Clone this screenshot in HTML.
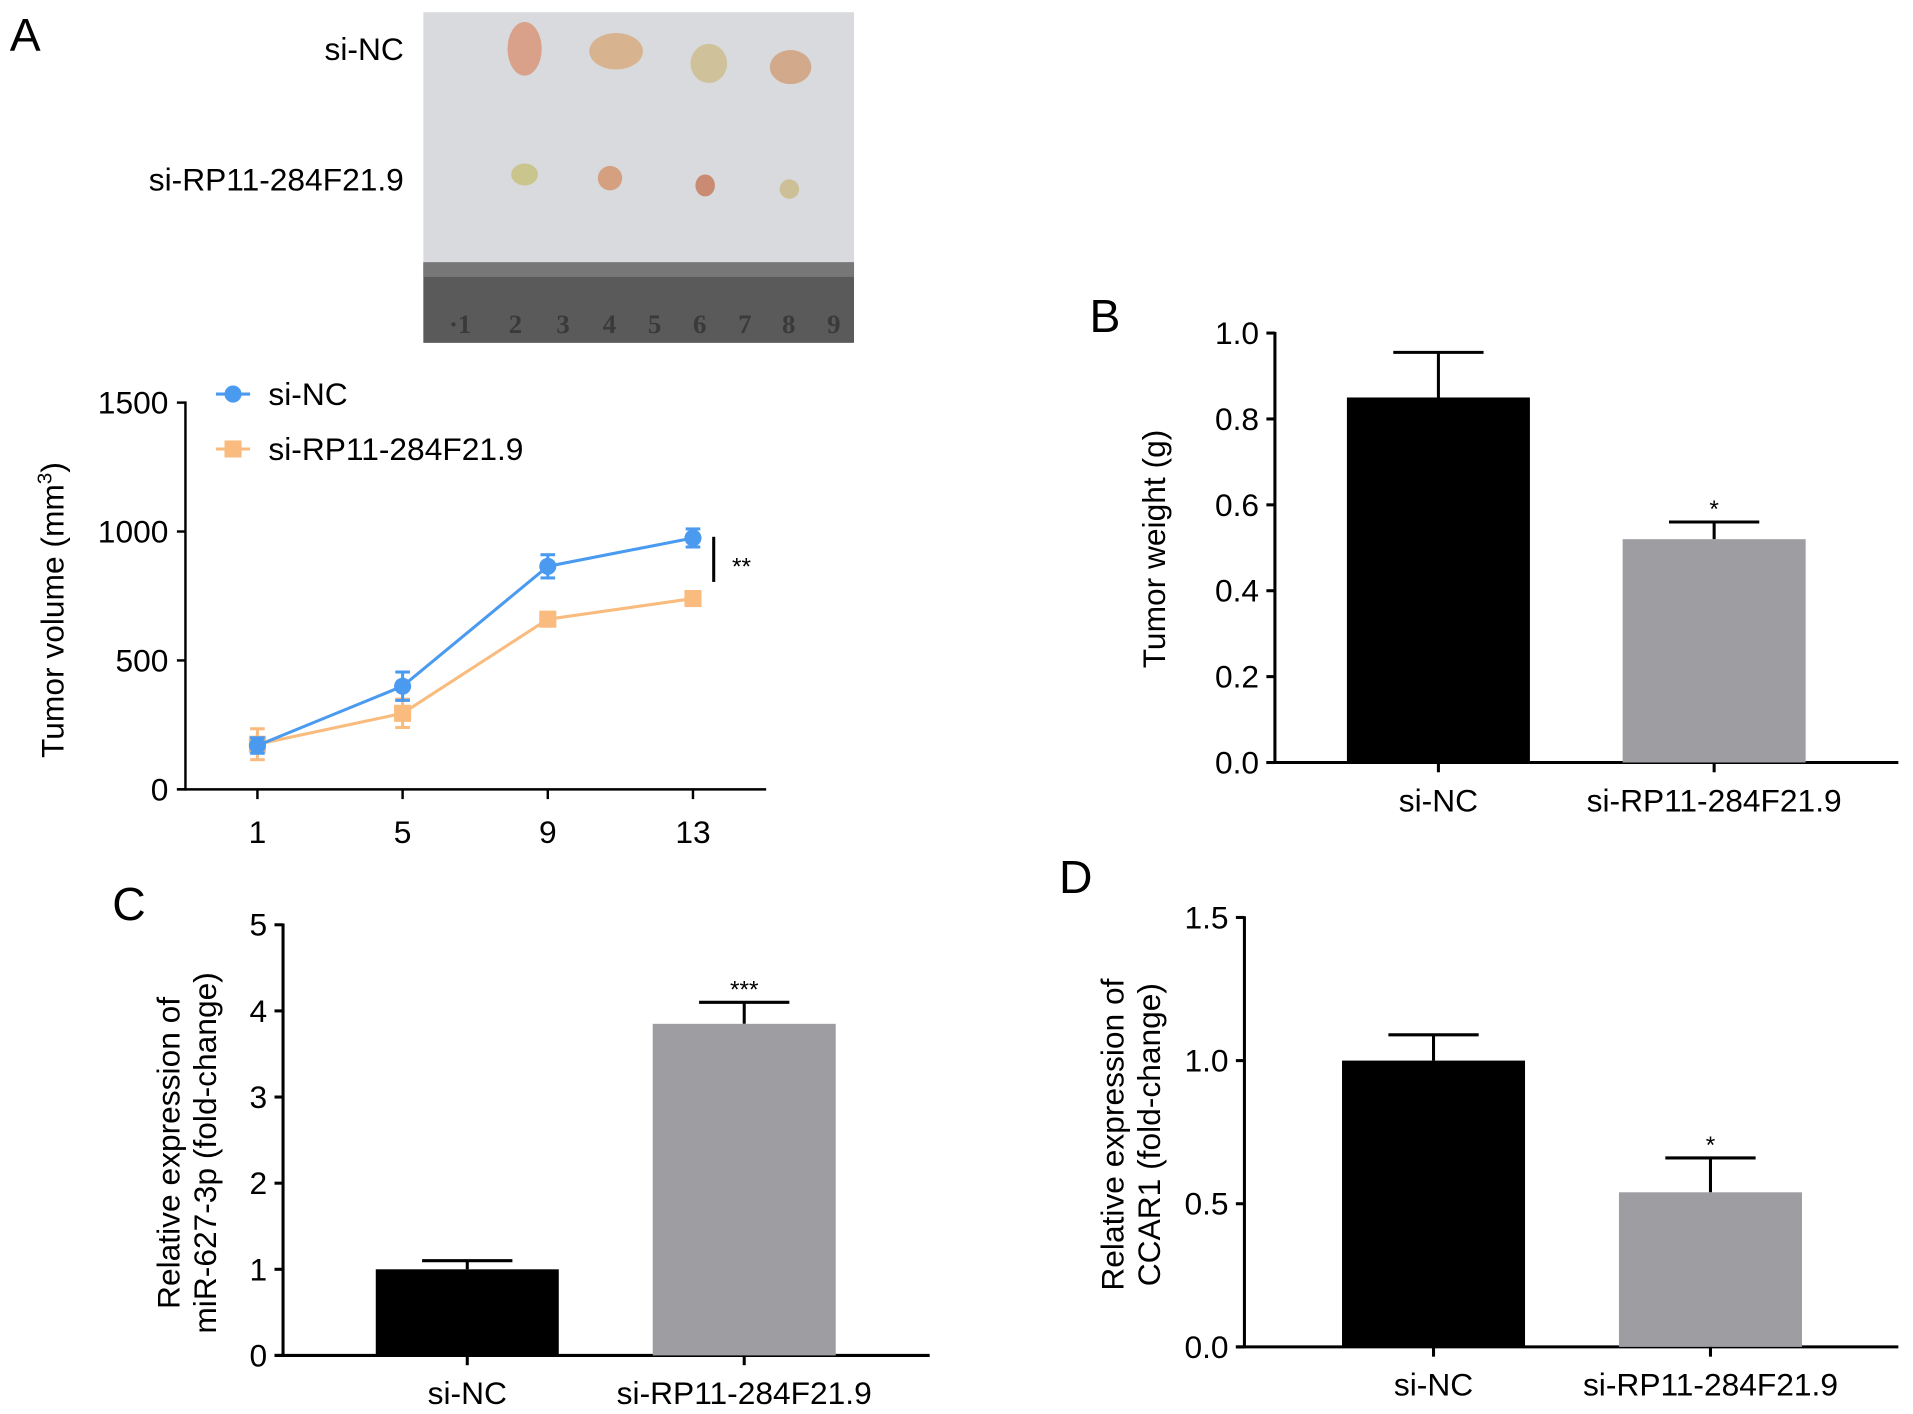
<!DOCTYPE html>
<html><head><meta charset="utf-8"><style>
html,body{margin:0;padding:0;background:#fff;}
svg{display:block;font-family:"Liberation Sans",Arial,sans-serif;}
</style></head><body>
<svg id="fig" width="1913" height="1414" viewBox="0 0 1568 1159" preserveAspectRatio="none" xmlns="http://www.w3.org/2000/svg">
<g>
<rect x="347" y="10" width="353" height="271" fill="#d8dadd"/>
<rect x="347" y="215" width="353" height="66" fill="#5a5a5a"/>
<rect x="347" y="215" width="353" height="12" fill="#777"/>
<ellipse cx="430" cy="40" rx="14" ry="22" fill="#d9a08a"/>
<ellipse cx="505" cy="42" rx="22" ry="15" fill="#d8b38f"/>
<ellipse cx="581" cy="52" rx="15" ry="16" fill="#cfc29a"/>
<ellipse cx="648" cy="55" rx="17" ry="14" fill="#d2a98a"/>
<ellipse cx="430" cy="143" rx="11" ry="9" fill="#c9c58c"/>
<ellipse cx="500" cy="146" rx="10" ry="10" fill="#d4a07f"/>
<ellipse cx="578" cy="152" rx="8" ry="9" fill="#c98c72"/>
<ellipse cx="647" cy="155" rx="8" ry="8" fill="#cdc096"/>
<g fill="#3a3a3a" font-family="Liberation Serif,serif" font-size="22" font-weight="bold">
<text x="368" y="273">·1</text><text x="417" y="273">2</text><text x="456" y="273">3</text><text x="494" y="273">4</text><text x="531" y="273">5</text><text x="568" y="273">6</text><text x="605" y="273">7</text><text x="641" y="273">8</text><text x="678" y="273">9</text>
</g>
</g>
<text x="8" y="42" font-size="38">A</text>
<text x="331" y="49" font-size="26" text-anchor="end">si-NC</text>
<text x="331" y="156" font-size="26" text-anchor="end">si-RP11-284F21.9</text>
<g id="lineChart"></g>
<g id="chartB"></g>
<g id="chartC"></g>
<g id="chartD"></g>
</svg>
<script>
// Line chart data (panel A)
const days = [1, 5, 9, 13];
const volTicks = [0, 500, 1000, 1500];
const siNCVol = [170, 400, 865, 975];
const siNCErr = [30, 55, 45, 35];
const siRPVol = [175, 295, 660, 740];
const siRPErr = [60, 55, 25, 20];
// Bar charts
const barCats = ["si-NC", "si-RP11-284F21.9"];
const weightVals = [0.85, 0.52];
const weightErr = [0.105, 0.04];
const weightTicks = [0.0, 0.2, 0.4, 0.6, 0.8, 1.0];
const mirVals = [1.0, 3.85];
const mirErr = [0.1, 0.25];
const mirTicks = [0, 1, 2, 3, 4, 5];
const ccarVals = [1.0, 0.54];
const ccarErr = [0.09, 0.12];
const ccarTicks = [0.0, 0.5, 1.0, 1.5];

const FS = 26;
const NS = "http://www.w3.org/2000/svg";
function mk(parent, tag, attrs, text) {
  const e = document.createElementNS(NS, tag);
  for (const k in attrs) e.setAttribute(k, attrs[k]);
  if (text !== undefined) e.textContent = text;
  parent.appendChild(e);
  return e;
}

// ---- Panel A line chart ----
(function(){
  const g = document.getElementById('lineChart');
  const x = d => 211 + (d - 1) * (568 - 211) / 12;
  const y = v => 647 - v * (647 - 330) / 1500;
  let e = mk(g, 'line', {x1:152,y1:329,x2:152,y2:648,stroke:'#000','stroke-width':2});
   
  e = mk(g, 'line', {x1:145,y1:647,x2:628,y2:647,stroke:'#000','stroke-width':2});
   
  volTicks.forEach(t => {
    mk(g, 'line', {x1:145,y1:y(t),x2:152,y2:y(t),stroke:'#000','stroke-width':2});
    const tl = mk(g, 'text', {x:138,y:y(t)+9,'font-size':FS,'text-anchor':'end'}, String(t));
     
  });
  days.forEach(d => {
    mk(g, 'line', {x1:x(d),y1:647,x2:x(d),y2:655,stroke:'#000','stroke-width':2});
    const tl = mk(g, 'text', {x:x(d),y:691,'font-size':FS,'text-anchor':'middle'}, String(d));
     
  });
  const yt = mk(g, 'text', {transform:'translate(52,500) rotate(-90)','font-size':FS,'text-anchor':'middle'});
   
  yt.innerHTML = 'Tumor volume (mm<tspan dy="-10" font-size="17">3</tspan><tspan dy="10">)</tspan>';
  function series(vals, errs, color, marker, name) {
    const sg = mk(g, 'g', {});
     
    mk(sg, 'polyline', {points: days.map((d,i)=>x(d)+','+y(vals[i])).join(' '), fill:'none', stroke:color, 'stroke-width':2.5});
    days.forEach((d,i) => {
      const cx = x(d), cy = y(vals[i]);
      mk(sg, 'line', {x1:cx,y1:y(vals[i]+errs[i]),x2:cx,y2:y(vals[i]-errs[i]),stroke:color,'stroke-width':2.5});
      mk(sg, 'line', {x1:cx-6,y1:y(vals[i]+errs[i]),x2:cx+6,y2:y(vals[i]+errs[i]),stroke:color,'stroke-width':2.5});
      mk(sg, 'line', {x1:cx-6,y1:y(vals[i]-errs[i]),x2:cx+6,y2:y(vals[i]-errs[i]),stroke:color,'stroke-width':2.5});
      let m;
      if (marker === 'circle') m = mk(sg, 'circle', {cx:cx,cy:cy,r:7,fill:color});
      else m = mk(sg, 'rect', {x:cx-7,y:cy-7,width:14,height:14,fill:color});
       
    });
  }
  series(siRPVol, siRPErr, '#f9bb7e', 'square', 'series-si-rp11');
  series(siNCVol, siNCErr, '#4a9af0', 'circle', 'series-si-nc');
  const lg = mk(g, 'g', {});
   
  mk(lg, 'line', {x1:177,y1:323,x2:205,y2:323,stroke:'#4a9af0','stroke-width':2.5});
  mk(lg, 'circle', {cx:191,cy:323,r:7,fill:'#4a9af0'});
  mk(lg, 'text', {x:220,y:332,'font-size':FS}, 'si-NC');
  mk(lg, 'line', {x1:177,y1:368,x2:205,y2:368,stroke:'#f9bb7e','stroke-width':2.5});
  mk(lg, 'rect', {x:184,y:361,width:14,height:14,fill:'#f9bb7e'});
  mk(lg, 'text', {x:220,y:377,'font-size':FS}, 'si-RP11-284F21.9');
  const sb = mk(g, 'line', {x1:585,y1:440,x2:585,y2:477,stroke:'#000','stroke-width':2.5});
   
  const st = mk(g, 'text', {x:600,y:471,'font-size':20}, '**');
   
})();

// ---- Bar charts ----
function barChart(id, cfg, vals, errs, ticks, tickFmt) {
  const g = document.getElementById(id);
  const ymax = ticks[ticks.length-1];
  const y = v => cfg.bottom - v * (cfg.bottom - cfg.top) / ymax;
  let e = mk(g, 'line', {x1:cfg.ax,y1:cfg.top-1,x2:cfg.ax,y2:cfg.bottom+1,stroke:'#000','stroke-width':2.5});
   
  e = mk(g, 'line', {x1:cfg.ax-7,y1:cfg.bottom,x2:cfg.xend,y2:cfg.bottom,stroke:'#000','stroke-width':2.5});
   
  ticks.forEach(t => {
    mk(g, 'line', {x1:cfg.ax-7,y1:y(t),x2:cfg.ax,y2:y(t),stroke:'#000','stroke-width':2.5});
    const tl = mk(g, 'text', {x:cfg.ax-13,y:y(t)+9,'font-size':FS,'text-anchor':'end'}, tickFmt(t));
     
  });
  const colors = ['#000000', '#9d9da2'];
  barCats.forEach((c,i) => {
    const x0 = cfg.bx[i], w = 150, cx = x0 + w/2;
    const top = y(vals[i]), et = y(vals[i] + errs[i]);
    mk(g, 'line', {x1:cx,y1:et,x2:cx,y2:top,stroke:'#000','stroke-width':2.5});
    mk(g, 'line', {x1:cx-37,y1:et,x2:cx+37,y2:et,stroke:'#000','stroke-width':2.5});
    const b = mk(g, 'rect', {x:x0,y:top,width:w,height:cfg.bottom-top,fill:colors[i]});
     
    mk(g, 'line', {x1:cx,y1:cfg.bottom,x2:cx,y2:cfg.bottom+8,stroke:'#000','stroke-width':2.5});
    const tl = mk(g, 'text', {x:cx,y:cfg.bottom+40,'font-size':FS,'text-anchor':'middle'}, c);
     
  });
  const sx = cfg.bx[1] + 75;
  const st = mk(g, 'text', {x:sx,y:y(vals[1]+errs[1])-4,'font-size':20,'text-anchor':'middle'}, cfg.sig);
   
  const yt = mk(g, 'text', {transform:'translate('+cfg.tx+','+cfg.ty+') rotate(-90)','font-size':FS,'text-anchor':'middle'});
   
  cfg.title.forEach((line, k) => {
    mk(yt, 'tspan', {x:0, dy: k===0 ? 0 : 30}, line);
  });
  const pl = mk(g, 'text', {x:cfg.lx,y:cfg.ly,'font-size':38}, cfg.label);
   
}
barChart('chartB', {ax:1045,top:273,bottom:625,xend:1556,bx:[1104,1330],sig:'*',tx:955,ty:450,title:['Tumor weight (g)'],label:'B',lx:893,ly:272},
  weightVals, weightErr, weightTicks, t => t.toFixed(1));
barChart('chartC', {ax:232,top:758,bottom:1111,xend:762,bx:[308,535],sig:'***',tx:147,ty:945,title:['Relative expression of','miR-627-3p (fold-change)'],label:'C',lx:92,ly:754},
  mirVals, mirErr, mirTicks, t => String(t));
barChart('chartD', {ax:1020,top:752,bottom:1104,xend:1556,bx:[1100,1327],sig:'*',tx:921,ty:930,title:['Relative expression of','CCAR1 (fold-change)'],label:'D',lx:868,ly:732},
  ccarVals, ccarErr, ccarTicks, t => t.toFixed(1));
</script>
</body></html>
